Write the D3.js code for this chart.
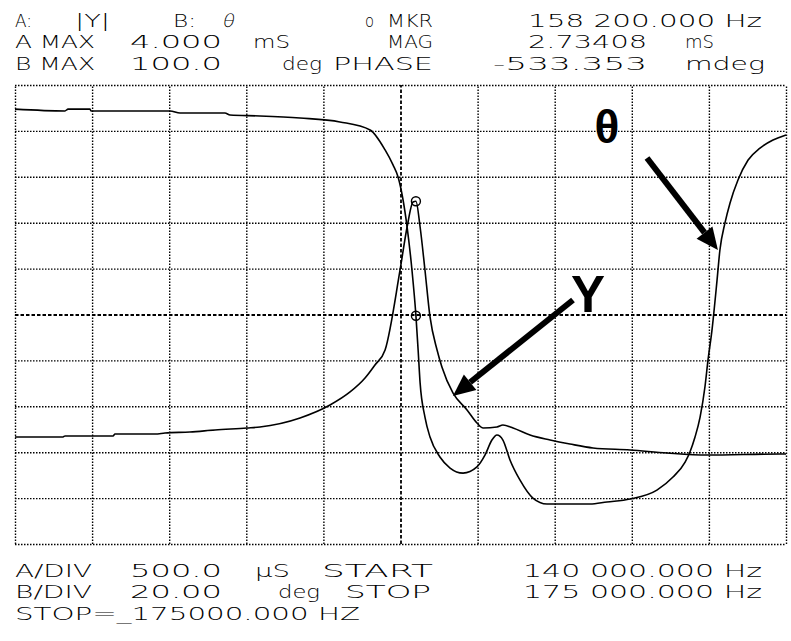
<!DOCTYPE html>
<html><head><meta charset="utf-8">
<script src="https://cdn.jsdelivr.net/npm/d3@7"></script>
<style>html,body{margin:0;padding:0;background:#fff;} svg{display:block;}</style>
</head><body>
<svg id="c" width="791" height="641"></svg>
<script>
// ---- data ----
const freqDomain = [140, 175];       // kHz (START / STOP)
const magDomain = [-1, 4];           // mS, A MAX 4.000 mS, 500 µS/div
const phaseDomain = [-100, 100];     // deg, B MAX 100 deg, 20 deg/div
const freqDivs = [140, 143.5, 147, 150.5, 154, 157.5, 161, 164.5, 168, 171.5, 175];
const magDivs = [-1, -0.5, 0, 0.5, 1, 1.5, 2, 2.5, 3, 3.5, 4];

const phaseFreq = [140.00,142.27,142.41,143.40,143.45,147.04,147.49,149.53,149.76,151.12,152.94,154.75,156.12,156.80,157.16,157.39,157.80,158.02,158.20,158.30,158.39,158.61,158.84,159.29,159.75,160.34,160.97,161.34,161.65,161.88,162.15,162.47,162.92,163.51,164.15,166.10,166.87,167.92,169.14,169.87,170.42,170.64,170.87,171.10,171.32,171.46,171.64,171.87,172.00,172.23,172.46,172.82,173.28,173.82,174.41,175.00];
const phaseDeg  = [89.5,88.7,89.5,89.5,88.7,88.7,87.8,87.8,86.9,86.5,85.6,83.9,80.4,71.7,65.2,59.9,38.1,19.4,-0.5,-15.5,-29.8,-44.7,-53.4,-62.1,-66.9,-69.1,-66.4,-61.2,-54.7,-52.5,-54.7,-63.4,-72.1,-80.0,-82.6,-82.6,-81.7,-80.4,-76.5,-70.8,-64.3,-59.9,-53.4,-44.7,-31.6,-19.8,-6.8,15.0,28.1,39.9,48.6,58.6,67.3,72.5,76.0,78.2];

const magFreq = [140.00,142.18,142.27,144.45,144.54,146.36,146.81,147.94,149.08,150.53,151.12,152.94,154.30,155.21,155.89,156.34,156.80,157.48,157.80,158.07,158.20,158.39,158.61,158.84,159.16,159.38,159.88,160.52,160.97,161.25,161.88,162.15,162.61,163.38,164.29,165.19,166.24,167.92,169.60,171.41,174.73,175.00];
const magMS   = [0.166,0.166,0.177,0.177,0.198,0.198,0.209,0.220,0.242,0.264,0.275,0.373,0.514,0.656,0.808,0.950,1.113,1.985,2.453,2.726,2.734,2.453,1.985,1.473,1.113,0.928,0.645,0.460,0.318,0.264,0.275,0.296,0.264,0.187,0.133,0.089,0.046,0.024,-0.009,-0.031,-0.020,-0.020];

const markerFreq = 158.2, markerMag = 2.73408, markerPhase = -0.533353;

// ---- layout ----
const L = 15, R = 786, T = 85, B = 544;
const svg = d3.select('#c');
svg.append('rect').attr('width',791).attr('height',641).attr('fill','#fff');

const x = d3.scaleLinear().domain(freqDomain).range([L, R]);
const yA = d3.scaleLinear().domain(magDomain).range([B, T]);
const yB = d3.scaleLinear().domain(phaseDomain).range([B, T]);

// grid through axes
const gx = svg.append('g').attr('transform', `translate(0,${B})`)
  .call(d3.axisBottom(x).tickValues(freqDivs).tickSize(-(B - T)).tickFormat(''));
gx.select('.domain').remove();
gx.selectAll('.tick line').attr('stroke', '#000')
  .attr('stroke-width', d => d === 157.5 ? 1.8 : 1.4)
  .attr('stroke-dasharray', d => d === 157.5 ? '3.5,2' : '1.5,1.5');

const gy = svg.append('g').attr('transform', `translate(${L},0)`)
  .call(d3.axisLeft(yA).tickValues(magDivs).tickSize(-(R - L)).tickFormat(''));
gy.select('.domain').remove();
gy.selectAll('.tick line').attr('stroke', '#000')
  .attr('stroke-width', d => d === 1.5 ? 1.8 : 1.4)
  .attr('stroke-dasharray', d => d === 1.5 ? '3.5,2' : '1.5,1.5');

// curves
const phasePts = phaseFreq.map((f, i) => [f, phaseDeg[i]]);
const magPts = magFreq.map((f, i) => [f, magMS[i]]);
svg.append('path').datum(phasePts)
  .attr('d', d3.line().x(d => x(d[0])).y(d => yB(d[1])).curve(d3.curveMonotoneX))
  .attr('fill', 'none').attr('stroke', '#000').attr('stroke-width', 1.6);
svg.append('path').datum(magPts)
  .attr('d', d3.line().x(d => x(d[0])).y(d => yA(d[1])).curve(d3.curveMonotoneX))
  .attr('fill', 'none').attr('stroke', '#000').attr('stroke-width', 1.6);

// markers
svg.append('circle').attr('cx', x(markerFreq)).attr('cy', yA(markerMag)).attr('r', 4.5)
  .attr('fill', 'none').attr('stroke', '#000').attr('stroke-width', 1.4);
svg.append('circle').attr('cx', x(markerFreq)).attr('cy', yB(markerPhase)).attr('r', 4.5)
  .attr('fill', 'none').attr('stroke', '#000').attr('stroke-width', 1.4);

// annotation arrows
function arrow(x1, y1, x2, y2) {
  const ang = Math.atan2(y2 - y1, x2 - x1);
  const hl = 22, hw = 10;
  const bx = x2 - hl * Math.cos(ang), by = y2 - hl * Math.sin(ang);
  svg.append('line').attr('x1', x1).attr('y1', y1).attr('x2', bx).attr('y2', by)
    .attr('stroke', '#000').attr('stroke-width', 6);
  const px = -Math.sin(ang), py = Math.cos(ang);
  svg.append('path').attr('d', `M${x2},${y2}L${bx + px * hw},${by + py * hw}L${bx - px * hw},${by - py * hw}Z`)
    .attr('fill', '#000');
}
arrow(x(168.69), yB(68.2), x(171.91), yB(28.1));
arrow(x(165.33), yA(1.658), x(159.88), yA(0.612));
svg.append('text').attr('x', x(166.87)).attr('y', yB(74.7)).attr('text-anchor', 'middle')
  .attr('font-family', 'Liberation Sans, Arial, sans-serif').attr('font-weight', 'bold')
  .attr('font-size', 46).text('θ');
svg.append('text').attr('x', x(166.01)).attr('y', yA(1.527)).attr('text-anchor', 'middle')
  .attr('font-family', 'Liberation Sans, Arial, sans-serif').attr('font-weight', 'bold')
  .attr('font-size', 51).text('Y');

// header / footer text
const txt = [
  ['A:', 15, 32, 27], ['|Y|', 75, 110, 27], ['B:', 173, 196, 27], ['θ', 222, 234, 27, true],
  ['o', 365, 374, 27], ['MKR', 387, 433, 27], ['158 200.000 Hz', 528, 762, 27],
  ['A MAX', 15, 95, 48], ['4.000', 130, 222, 48], ['mS', 253, 290, 48], ['MAG', 387, 433, 48],
  ['2.73408', 528, 647, 48], ['mS', 685, 714, 48],
  ['B MAX', 15, 95, 70], ['100.0', 130, 222, 70], ['deg', 282, 322, 70], ['PHASE', 333, 433, 70],
  ['-533.353', 493, 647, 70], ['mdeg', 685, 765, 70],
  ['A/DIV', 15, 92, 577], ['500.0', 130, 222, 577], ['µS', 255, 290, 577], ['START', 322, 433, 577],
  ['140 000.000 Hz', 523, 762, 577],
  ['B/DIV', 15, 92, 598], ['20.00', 130, 222, 598], ['deg', 278, 320, 598], ['STOP', 345, 431, 598],
  ['175 000.000 Hz', 523, 762, 598],
  ['STOP=_175000.000 HZ', 15, 360, 620]
];
svg.append('g').selectAll('text').data(txt).join('text')
  .attr('x', d => d[1]).attr('y', d => d[3])
  .attr('transform', d => d[4] ? `translate(${d[3] * 0.2},0) skewX(-12)` : null)
  .attr('textLength', d => d[2] - d[1]).attr('lengthAdjust', 'spacingAndGlyphs')
  .attr('font-family', 'DejaVu Sans, sans-serif')
  .attr('font-weight', 200).attr('font-size', 18)
  .attr('fill', '#000').text(d => d[0]);
</script>
</body></html>
